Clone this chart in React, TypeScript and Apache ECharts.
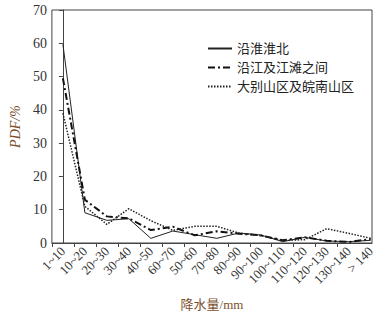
import React, { useEffect, useRef } from "react";
import * as echarts from "echarts";

const categories = ["1~10", "10~20", "20~30", "30~40", "40~50", "60~70", "50~60", "70~80", "80~90", "90~100", "100~110", "110~120", "120~130", "130~140", "> 140"];
const seriesNames = ["沿淮淮北", "沿江及江滩之间", "大别山区及皖南山区"];
const huaibei = [59.7, 9.1, 6.8, 7.3, 1.4, 3.6, 2.5, 1.4, 3.0, 2.4, 0.4, 1.7, 0.6, 0.4, 0.8];
const jianghuai = [49.5, 13.0, 8.0, 7.4, 3.9, 4.9, 2.3, 3.5, 2.8, 2.3, 0.8, 1.7, 0.7, 0.3, 1.2];
const shanqu = [39.0, 11.0, 5.6, 10.3, 6.7, 3.8, 5.0, 5.0, 3.0, 2.2, 0.8, 1.0, 4.3, 2.9, 1.4];
const yTicks = [0, 10, 20, 30, 40, 50, 60, 70];

const SERIF = "'Liberation Serif', 'DejaVu Serif', 'Noto Sans CJK SC', serif";
const NAME_COLOR = "#7a4f2c";

export default function App() {
  const ref = useRef<HTMLDivElement>(null);
  useEffect(() => {
    if (!ref.current) return;
    const chart = echarts.init(ref.current, null, { renderer: "svg" });
    const toPairs = (arr: number[]) => arr.map((v, i) => [i, v]);
    const lineStyles: any[] = [
      { color: "#222", width: 1, type: "solid" },
      { color: "#111", width: 2, type: [7, 3, 2, 3] },
      { color: "#222", width: 1.5, type: [1.5, 1.5] },
    ];
    const datasets = [huaibei, jianghuai, shanqu];
    chart.setOption({
      animation: false,
      backgroundColor: "#fff",
      grid: {
        left: 46,
        right: 11,
        top: 10,
        bottom: 68,
        show: true,
        borderColor: "#444",
        borderWidth: 1,
      },
      legend: {
        orient: "vertical",
        left: 202,
        top: 37,
        itemWidth: 24,
        itemHeight: 12,
        itemGap: 6,
        itemStyle: { opacity: 0 },
        textStyle: { fontFamily: SERIF, fontSize: 13, color: "#222" },
        data: seriesNames,
      },
      xAxis: {
        type: "value",
        min: -0.5,
        max: 14.06,
        name: "降水量/mm",
        nameLocation: "middle",
        nameGap: 55,
        nameTextStyle: { fontFamily: SERIF, fontSize: 13, color: NAME_COLOR },
        axisLine: { show: true, lineStyle: { color: "#444", width: 1 } },
        axisTick: {
          show: true,
          inside: false,
          length: 4,
          lineStyle: { color: "#444" },
          customValues: categories.slice(0, 14).map((_, i) => i - 0.5),
        },
        axisLabel: {
          rotate: 45,
          margin: 6,
          fontFamily: SERIF,
          fontSize: 13,
          color: "#333",
          customValues: categories.map((_, i) => i),
          formatter: (v: number) => categories[Math.round(v)] ?? "",
        },
        splitLine: { show: false },
      },
      yAxis: {
        type: "value",
        min: 0,
        max: 70,
        interval: 10,
        name: "PDF/%",
        nameLocation: "middle",
        nameGap: 28,
        nameTextStyle: { fontFamily: SERIF, fontSize: 14, fontStyle: "italic", color: NAME_COLOR },
        axisLine: { show: true, lineStyle: { color: "#444", width: 1 } },
        axisTick: { show: true, inside: false, length: 4, lineStyle: { color: "#444" } },
        axisLabel: {
          margin: 5,
          fontFamily: SERIF,
          fontSize: 14,
          color: "#333",
          customValues: yTicks,
        },
        splitLine: { show: false },
      },
      series: datasets.map((d, i) => ({
        name: seriesNames[i],
        type: "line",
        data: toPairs(d),
        symbol: "none",
        showSymbol: false,
        lineStyle: lineStyles[i],
        itemStyle: { color: lineStyles[i].color },
        clip: false,
      })),
    });
    return () => chart.dispose();
  }, []);
  return <div ref={ref} style={{ width: 383, height: 316, position: "absolute", left: 0, top: 0 }} />;
}
